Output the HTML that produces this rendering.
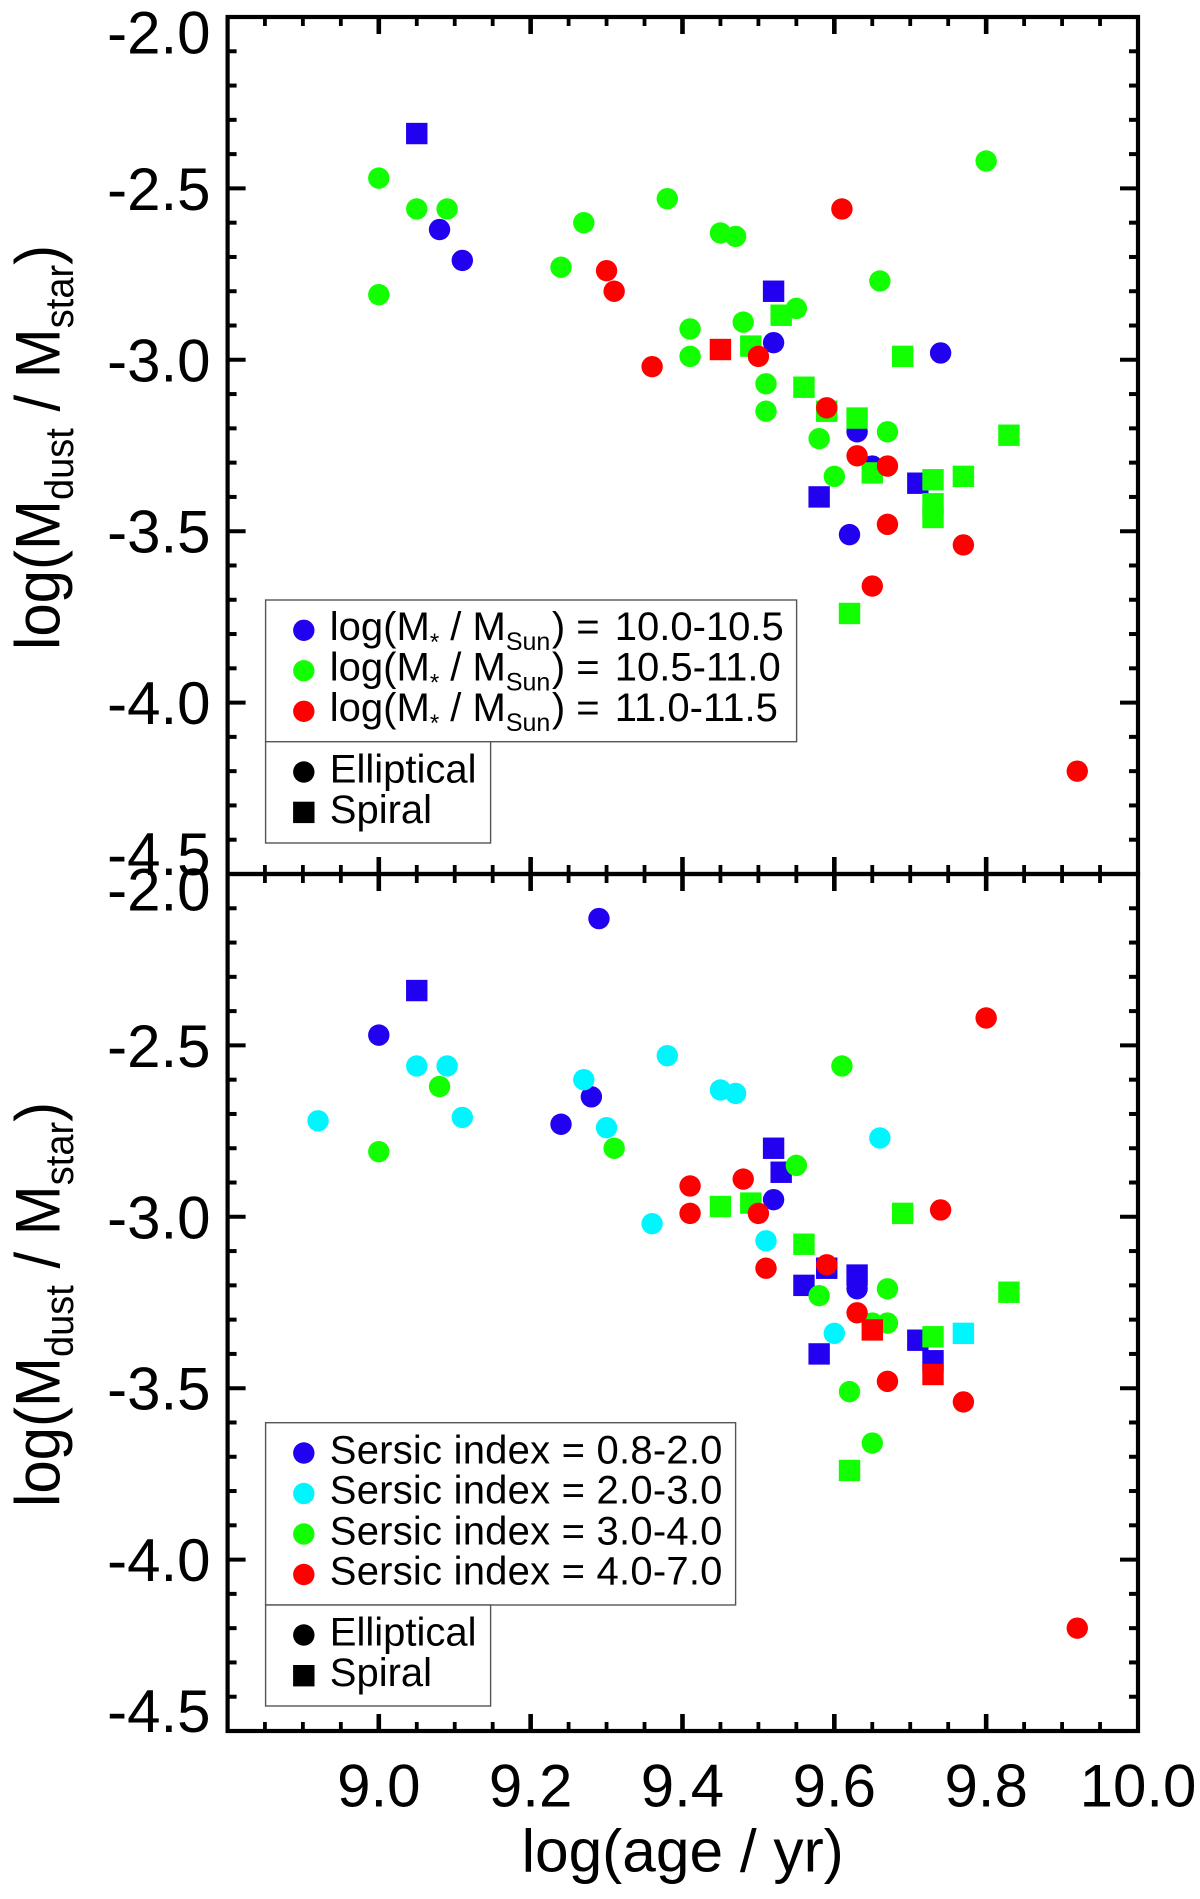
<!DOCTYPE html>
<html lang="en">
<head>
<meta charset="utf-8">
<title>Dust to stellar mass ratio versus age</title>
<style>
html,body{margin:0;padding:0;background:#fff;}
svg{display:block;font-family:"Liberation Sans",Arial,sans-serif;fill:#000;}
.leg{font-size:40px;}
.sub{font-size:25px;}
.wide{letter-spacing:0.22px;}
</style>
</head>
<body>
<svg id="chart" xmlns="http://www.w3.org/2000/svg" width="1200" height="1899" viewBox="0 0 1200 1899">
  <rect x="0" y="0" width="1200" height="1899" fill="#fff"/>
  <g id="marks"></g>
  <g id="axes"></g>

  <text transform="translate(59.3,650) rotate(-90) scale(1,1.05)" font-size="60">log(M<tspan font-size="38" dy="13">dust</tspan><tspan dy="-13"> / M</tspan><tspan font-size="38" dy="13">star</tspan><tspan dy="-13">)</tspan></text>
  <text transform="translate(59.3,1507) rotate(-90) scale(1,1.05)" font-size="60">log(M<tspan font-size="38" dy="13">dust</tspan><tspan dy="-13"> / M</tspan><tspan font-size="38" dy="13">star</tspan><tspan dy="-13">)</tspan></text>
  <text x="682.7" y="1871.5" font-size="60.4" text-anchor="middle">log(age / yr)</text>

  <g>
    <rect x="265.6" y="600" width="531" height="141.7" fill="#fff" stroke="#555" stroke-width="1.4"/>
    <circle cx="303.8" cy="630.3" r="10.7" fill="#2200f0"/>
    <circle cx="303.8" cy="670.7" r="10.7" fill="#11ff00"/>
    <circle cx="303.8" cy="711.3" r="10.7" fill="#ff0000"/>
    <text class="leg" x="329.8" y="640">log(M<tspan font-size="24" dy="10">*</tspan><tspan dy="-10"> / M</tspan><tspan class="sub" dy="10">Sun</tspan><tspan dy="-10" dx="1.5">) = </tspan><tspan dx="4">10.0-10.5</tspan></text>
    <text class="leg" x="329.8" y="680.5">log(M<tspan font-size="24" dy="10">*</tspan><tspan dy="-10"> / M</tspan><tspan class="sub" dy="10">Sun</tspan><tspan dy="-10" dx="1.5">) = </tspan><tspan dx="4">10.5-11.0</tspan></text>
    <text class="leg" x="329.8" y="721">log(M<tspan font-size="24" dy="10">*</tspan><tspan dy="-10"> / M</tspan><tspan class="sub" dy="10">Sun</tspan><tspan dy="-10" dx="1.5">) = </tspan><tspan dx="4">11.0-11.5</tspan></text>
  </g>
  <g>
    <rect x="265.6" y="741.7" width="225" height="101.3" fill="#fff" stroke="#555" stroke-width="1.4"/>
    <circle cx="303.8" cy="772" r="10.7" fill="#000"/>
    <rect x="293.1" y="801.7" width="21.4" height="21.4" fill="#000"/>
    <text class="leg" x="329.8" y="782.5">Elliptical</text>
    <text class="leg" x="329.8" y="822.8">Spiral</text>
  </g>

  <g>
    <rect x="265.6" y="1422.7" width="470" height="182.3" fill="#fff" stroke="#555" stroke-width="1.4"/>
    <circle cx="303.8" cy="1453" r="10.7" fill="#2200f0"/>
    <circle cx="303.8" cy="1493.5" r="10.7" fill="#00f6ff"/>
    <circle cx="303.8" cy="1534" r="10.7" fill="#11ff00"/>
    <circle cx="303.8" cy="1574.5" r="10.7" fill="#ff0000"/>
    <text class="leg wide" x="329.8" y="1463.3">Sersic index = 0.8-2.0</text>
    <text class="leg wide" x="329.8" y="1503.7">Sersic index = 2.0-3.0</text>
    <text class="leg wide" x="329.8" y="1544.3">Sersic index = 3.0-4.0</text>
    <text class="leg wide" x="329.8" y="1584.7">Sersic index = 4.0-7.0</text>
  </g>
  <g>
    <rect x="265.6" y="1605" width="225" height="101" fill="#fff" stroke="#555" stroke-width="1.4"/>
    <circle cx="303.8" cy="1635" r="10.7" fill="#000"/>
    <rect x="293.1" y="1665" width="21.4" height="21.4" fill="#000"/>
    <text class="leg" x="329.8" y="1645.5">Elliptical</text>
    <text class="leg" x="329.8" y="1685.8">Spiral</text>
  </g>
</svg>

<script>
// Axis ticks and labels
const xMajorTicks = [8.8, 9.0, 9.2, 9.4, 9.6, 9.8, 10.0];
const xTickLabels = ["9.0", "9.2", "9.4", "9.6", "9.8", "10.0"];
const xLabelValues = [9.0, 9.2, 9.4, 9.6, 9.8, 10.0];
const yMajorTicks = [-2.0, -2.5, -3.0, -3.5, -4.0, -4.5];
const yTickLabels = ["-2.0", "-2.5", "-3.0", "-3.5", "-4.0", "-4.5"];

// Top panel: [log age, log dust/star], split by stellar mass bin and morphology
const massLowElliptical = [[9.08,-2.62],[9.11,-2.71],[9.52,-2.95],[9.74,-2.98],[9.63,-3.21],[9.65,-3.31],[9.62,-3.51]];
const massLowSpiral = [[9.05,-2.34],[9.52,-2.80],[9.58,-3.40],[9.71,-3.36]];
const massMidElliptical = [[9.00,-2.47],[9.05,-2.56],[9.09,-2.56],[9.00,-2.81],[9.24,-2.73],[9.27,-2.60],[9.38,-2.53],[9.45,-2.63],[9.47,-2.64],[9.80,-2.42],[9.66,-2.77],[9.55,-2.85],[9.48,-2.89],[9.41,-2.91],[9.41,-2.99],[9.51,-3.07],[9.51,-3.15],[9.58,-3.23],[9.67,-3.21],[9.60,-3.34]];
const massMidSpiral = [[9.53,-2.87],[9.49,-2.96],[9.69,-2.99],[9.56,-3.08],[9.59,-3.15],[9.63,-3.17],[9.83,-3.22],[9.65,-3.33],[9.73,-3.35],[9.77,-3.34],[9.73,-3.42],[9.73,-3.46],[9.62,-3.74]];
const massHighElliptical = [[9.30,-2.74],[9.31,-2.80],[9.61,-2.56],[9.36,-3.02],[9.50,-2.99],[9.59,-3.14],[9.63,-3.28],[9.67,-3.31],[9.67,-3.48],[9.77,-3.54],[9.65,-3.66],[9.92,-4.20]];
const massHighSpiral = [[9.45,-2.97]];

// Bottom panel: [log age, log dust/star], split by Sersic index bin and morphology
const sersicLowElliptical = [[9.00,-2.47],[9.24,-2.73],[9.28,-2.65],[9.29,-2.13],[9.52,-2.95],[9.63,-3.21]];
const sersicLowSpiral = [[9.05,-2.34],[9.52,-2.80],[9.53,-2.87],[9.59,-3.15],[9.63,-3.17],[9.56,-3.20],[9.58,-3.40],[9.71,-3.36],[9.73,-3.42]];
const sersicMidElliptical = [[8.92,-2.72],[9.05,-2.56],[9.09,-2.56],[9.11,-2.71],[9.27,-2.60],[9.30,-2.74],[9.38,-2.53],[9.45,-2.63],[9.47,-2.64],[9.66,-2.77],[9.36,-3.02],[9.51,-3.07],[9.60,-3.34]];
const sersicMidSpiral = [[9.77,-3.34]];
const sersicHighElliptical = [[9.08,-2.62],[9.00,-2.81],[9.31,-2.80],[9.61,-2.56],[9.55,-2.85],[9.58,-3.23],[9.67,-3.21],[9.65,-3.31],[9.67,-3.31],[9.62,-3.51],[9.65,-3.66]];
const sersicHighSpiral = [[9.45,-2.97],[9.49,-2.96],[9.56,-3.08],[9.69,-2.99],[9.83,-3.22],[9.73,-3.35],[9.62,-3.74]];
const sersicTopElliptical = [[9.80,-2.42],[9.48,-2.89],[9.41,-2.91],[9.41,-2.99],[9.50,-2.99],[9.74,-2.98],[9.51,-3.15],[9.59,-3.14],[9.63,-3.28],[9.67,-3.48],[9.77,-3.54],[9.92,-4.20]];
const sersicTopSpiral = [[9.65,-3.33],[9.73,-3.46]];

const NS = "http://www.w3.org/2000/svg";
const marksLayer = document.getElementById("marks");
const axesLayer = document.getElementById("axes");
const TOP_PANEL = 17;
const BOTTOM_PANEL = 874;
const LEFT = 227.6;
const RIGHT = 1138;
const MARK = 21.4;

function xPos(v) { return 378.8 + (v - 9.0) * 759.2; }
function yPos(v, panelTop) { return panelTop + (-2.0 - v) * 342.8; }

function drawCircles(points, color, panelTop) {
  points.forEach(function (p) {
    const el = document.createElementNS(NS, "circle");
    
    
    el.setAttribute("cx", xPos(p[0]));
    el.setAttribute("cy", yPos(p[1], panelTop));
    el.setAttribute("r", MARK / 2);
    el.setAttribute("fill", color);
    marksLayer.appendChild(el);
  });
}

function drawSquares(points, color, panelTop) {
  points.forEach(function (p) {
    const el = document.createElementNS(NS, "rect");
    
    
    el.setAttribute("x", xPos(p[0]) - MARK / 2);
    el.setAttribute("y", yPos(p[1], panelTop) - MARK / 2);
    el.setAttribute("width", MARK);
    el.setAttribute("height", MARK);
    el.setAttribute("fill", color);
    marksLayer.appendChild(el);
  });
}

function drawTick(x1, y1, x2, y2, width) {
  const el = document.createElementNS(NS, "line");
  
  
  el.setAttribute("x1", x1);
  el.setAttribute("y1", y1);
  el.setAttribute("x2", x2);
  el.setAttribute("y2", y2);
  el.setAttribute("stroke", "#000");
  el.setAttribute("stroke-width", width);
  axesLayer.appendChild(el);
}

function drawAxisTicks(panelTop) {
  const panelBottom = yPos(-4.5, panelTop);
  for (let i = 0; i < xMajorTicks.length - 1; i++) {
    for (let j = 0; j < 4; j++) {
      const v = xMajorTicks[i] + j * (xMajorTicks[i + 1] - xMajorTicks[i]) / 4;
      if (i === 0 && j === 0) continue;
      const len = j === 0 ? 17 : 9;
      const w = j === 0 ? 4.6 : 3.8;
      drawTick(xPos(v), panelTop, xPos(v), panelTop + len, w);
      drawTick(xPos(v), panelBottom, xPos(v), panelBottom - len, w);
    }
  }
  for (let i = 0; i < yMajorTicks.length - 1; i++) {
    for (let j = 0; j < 5; j++) {
      const v = yMajorTicks[i] + j * (yMajorTicks[i + 1] - yMajorTicks[i]) / 5;
      if (i === 0 && j === 0) continue;
      const len = j === 0 ? 18 : 9;
      drawTick(LEFT, yPos(v, panelTop), LEFT + len, yPos(v, panelTop), 4);
      drawTick(RIGHT, yPos(v, panelTop), RIGHT - len, yPos(v, panelTop), 4);
    }
  }
}

function drawFrame(panelTop) {
  const el = document.createElementNS(NS, "rect");
  
  
  el.setAttribute("x", LEFT);
  el.setAttribute("y", panelTop);
  el.setAttribute("width", RIGHT - LEFT);
  el.setAttribute("height", yPos(-4.5, panelTop) - panelTop);
  el.setAttribute("fill", "none");
  el.setAttribute("stroke", "#000");
  el.setAttribute("stroke-width", 4.2);
  axesLayer.appendChild(el);
}

function drawYLabels(panelTop) {
  yTickLabels.forEach(function (label, i) {
    let shift = 0;
    if (i === 0) shift = 15;
    if (i === yTickLabels.length - 1) shift = -20.5;
    const el = document.createElementNS(NS, "text");
    
    
    el.setAttribute("x", 210.5);
    el.setAttribute("y", yPos(yMajorTicks[i], panelTop) + shift + 21.5);
    el.setAttribute("font-size", 60);
    el.setAttribute("text-anchor", "end");
    el.textContent = label;
    axesLayer.appendChild(el);
  });
}

function drawXLabels() {
  xTickLabels.forEach(function (label, i) {
    const el = document.createElementNS(NS, "text");
    
    
    el.setAttribute("x", xPos(xLabelValues[i]));
    el.setAttribute("y", 1806.5);
    el.setAttribute("font-size", 60);
    el.setAttribute("text-anchor", "middle");
    el.textContent = label;
    axesLayer.appendChild(el);
  });
}

const BLUE = "#2200f0";
const CYAN = "#00f6ff";
const GREEN = "#11ff00";
const RED = "#ff0000";

drawCircles(massLowElliptical, BLUE, TOP_PANEL);
drawSquares(massLowSpiral, BLUE, TOP_PANEL);
drawCircles(massMidElliptical, GREEN, TOP_PANEL);
drawSquares(massMidSpiral, GREEN, TOP_PANEL);
drawCircles(massHighElliptical, RED, TOP_PANEL);
drawSquares(massHighSpiral, RED, TOP_PANEL);

drawCircles(sersicLowElliptical, BLUE, BOTTOM_PANEL);
drawSquares(sersicLowSpiral, BLUE, BOTTOM_PANEL);
drawCircles(sersicMidElliptical, CYAN, BOTTOM_PANEL);
drawSquares(sersicMidSpiral, CYAN, BOTTOM_PANEL);
drawCircles(sersicHighElliptical, GREEN, BOTTOM_PANEL);
drawSquares(sersicHighSpiral, GREEN, BOTTOM_PANEL);
drawCircles(sersicTopElliptical, RED, BOTTOM_PANEL);
drawSquares(sersicTopSpiral, RED, BOTTOM_PANEL);

drawAxisTicks(TOP_PANEL);
drawAxisTicks(BOTTOM_PANEL);
drawFrame(TOP_PANEL);
drawFrame(BOTTOM_PANEL);
drawYLabels(TOP_PANEL);
drawYLabels(BOTTOM_PANEL);
drawXLabels();
</script>
</body>
</html>
